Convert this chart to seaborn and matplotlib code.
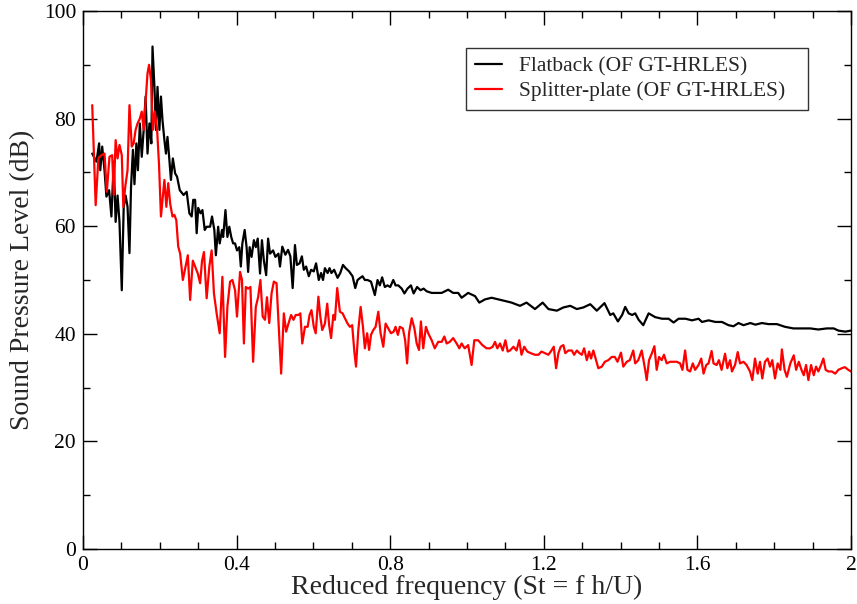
import numpy as np
import pandas as pd
import matplotlib
matplotlib.use("Agg")
import matplotlib.pyplot as plt
from matplotlib.ticker import MultipleLocator
import seaborn as sns

# ---- data ----
st_flatback = [
    0.024, 0.035, 0.042, 0.045, 0.050, 0.056, 0.061, 0.068, 0.074, 0.080,
    0.085, 0.090, 0.095, 0.101, 0.106, 0.111, 0.116, 0.121, 0.125, 0.130,
    0.134, 0.139, 0.143, 0.148, 0.153, 0.158, 0.163, 0.168, 0.173, 0.178,
    0.181, 0.186, 0.190, 0.194, 0.199, 0.203, 0.207, 0.212, 0.216, 0.220,
    0.225, 0.229, 0.234, 0.240, 0.245, 0.252,
    0.262, 0.270, 0.277, 0.283, 0.287, 0.292, 0.296, 0.300, 0.306, 0.311,
    0.317, 0.322, 0.331, 0.336, 0.342, 0.346, 0.352, 0.356, 0.362, 0.365,
    0.371, 0.376, 0.381, 0.386, 0.391, 0.396, 0.401, 0.407, 0.411, 0.415,
    0.421, 0.426, 0.430, 0.434, 0.439, 0.445, 0.450, 0.455, 0.461, 0.466,
    0.471, 0.477, 0.482, 0.487, 0.495, 0.501, 0.509, 0.513,
    0.519, 0.527, 0.534, 0.540, 0.546, 0.552, 0.557, 0.564, 0.570, 0.575,
    0.581, 0.588, 0.594, 0.601, 0.607, 0.614, 0.620, 0.625, 0.630, 0.637,
    0.642, 0.647, 0.654, 0.663, 0.670, 0.677, 0.684, 0.693, 0.702, 0.709,
    0.715, 0.722, 0.728, 0.734, 0.741, 0.750, 0.760, 0.767, 0.773, 0.779,
    0.786, 0.793, 0.800, 0.808, 0.814, 0.821, 0.830, 0.837, 0.845, 0.854,
    0.861, 0.870, 0.879, 0.887,
    0.895, 0.908, 0.921, 0.934, 0.951, 0.964, 0.977, 0.986, 1.003, 1.021,
    1.032, 1.047, 1.064, 1.082, 1.099, 1.116, 1.138, 1.155, 1.177, 1.197,
    1.212, 1.234, 1.251, 1.269, 1.286, 1.303, 1.321, 1.338,
    1.358, 1.373, 1.381, 1.393, 1.404, 1.412, 1.421, 1.430, 1.438, 1.447,
    1.459, 1.473, 1.490, 1.508, 1.525, 1.538, 1.551, 1.569, 1.586, 1.603,
    1.612, 1.629, 1.647, 1.664, 1.681, 1.694, 1.707, 1.720, 1.738, 1.751,
    1.768,
    1.785, 1.807, 1.828, 1.850, 1.872, 1.894, 1.915, 1.937, 1.955, 1.967,
    1.985, 2.000,
]
spl_flatback = [
    73.5, 72.0, 75.4, 70.4, 74.8, 70.4, 65.5, 66.7, 61.8, 72.0,
    60.8, 65.7, 60.8, 48.1, 63.6, 65.7, 63.6, 55.0, 67.2, 74.2,
    67.8, 75.4, 70.4, 79.1, 72.9, 77.9, 84.1, 73.5, 79.1, 75.4,
    93.4, 85.9, 77.9, 85.9, 77.9, 84.1, 79.7, 76.0, 73.5, 76.6,
    72.3, 68.6, 72.6, 69.8, 69.2, 66.7,
    65.8, 66.4, 62.4, 61.8, 64.9, 64.9, 58.7, 63.4, 62.4, 63.0,
    59.3, 59.9, 59.9, 61.8, 59.3, 54.6, 59.9, 56.8, 59.3, 58.0,
    63.0, 58.0, 59.9, 58.0, 56.8, 56.8, 55.5, 56.1, 52.5, 56.8,
    59.3, 56.1, 51.5, 56.1, 54.3, 57.4, 56.1, 57.7, 51.2, 57.4,
    53.6, 50.9, 57.7, 54.9, 55.5, 54.3, 54.9, 52.5,
    56.2, 54.7, 55.6, 54.4, 48.5, 56.5, 52.8, 53.1, 54.4, 51.9,
    52.5, 50.7, 51.9, 51.6, 53.1, 50.0, 51.3, 50.0, 52.2, 51.3,
    52.2, 51.3, 51.9, 50.4, 51.3, 52.8, 52.2, 51.6, 50.7, 48.5,
    50.0, 50.4, 50.7, 50.0, 50.0, 49.7, 47.2, 50.0, 49.0, 50.5,
    48.7, 49.0, 48.7, 50.0, 49.0, 49.0, 48.4, 47.5, 48.4, 49.0,
    47.5, 48.7, 48.1, 48.4,
    47.9, 47.6, 47.6, 47.6, 48.2, 47.6, 47.6, 46.7, 47.6, 47.0,
    45.8, 46.4, 46.7, 46.4, 46.1, 45.8, 45.2, 45.8, 44.6, 45.8,
    44.6, 44.3, 44.9, 45.2, 44.6, 44.9, 45.5, 44.3,
    45.7, 43.5, 43.8, 42.3, 43.5, 45.0, 43.8, 43.5, 43.8, 42.6,
    41.6, 43.8, 43.1, 42.8, 42.8, 42.1, 42.8, 42.8, 42.5, 42.8,
    42.2, 42.5, 42.2, 42.2, 41.6, 41.4, 42.0, 41.6, 42.0, 41.7,
    42.0,
    41.8, 41.8, 41.3, 41.0, 41.0, 41.0, 40.8, 41.0, 41.0, 40.6,
    40.4, 40.6,
]

st_splitter = [
    0.024, 0.033, 0.040, 0.048, 0.056, 0.062, 0.069, 0.076, 0.080, 0.085,
    0.090, 0.095, 0.101, 0.105, 0.110, 0.116, 0.121, 0.127, 0.132, 0.137,
    0.142, 0.148, 0.153, 0.158, 0.163, 0.168, 0.172, 0.177, 0.182, 0.187,
    0.193, 0.198, 0.203, 0.208, 0.212, 0.217, 0.222, 0.227, 0.233, 0.238,
    0.243, 0.248,
    0.253, 0.260, 0.267, 0.273, 0.279, 0.286, 0.292, 0.299, 0.305, 0.310,
    0.315, 0.322, 0.329, 0.335, 0.341, 0.348, 0.356, 0.363, 0.370, 0.376,
    0.383, 0.389, 0.396, 0.401, 0.409, 0.414, 0.419, 0.424, 0.430, 0.436,
    0.443, 0.450, 0.456, 0.462, 0.468, 0.474, 0.479, 0.485, 0.491, 0.497,
    0.504,
    0.516, 0.523, 0.529, 0.535, 0.542, 0.548, 0.554, 0.561, 0.566, 0.571,
    0.578, 0.585, 0.590, 0.595, 0.601, 0.606, 0.613, 0.618, 0.623, 0.630,
    0.636, 0.641, 0.646, 0.652, 0.656, 0.662, 0.669, 0.676, 0.682, 0.689,
    0.695, 0.701, 0.707, 0.711, 0.717, 0.723, 0.729, 0.734, 0.740, 0.745,
    0.750, 0.756, 0.762, 0.769, 0.775, 0.782, 0.788, 0.795, 0.802, 0.809,
    0.814, 0.820, 0.825, 0.833, 0.839, 0.844, 0.849, 0.856, 0.863, 0.869,
    0.875, 0.880, 0.886,
    0.893, 0.899, 0.908, 0.916, 0.925, 0.934, 0.941, 0.947, 0.955, 0.964,
    0.973, 0.980, 0.986, 0.994, 1.003, 1.012, 1.019, 1.029, 1.040, 1.051,
    1.060, 1.067, 1.073, 1.079, 1.086, 1.093, 1.100, 1.106, 1.112, 1.121,
    1.129, 1.136, 1.142, 1.149, 1.157, 1.166, 1.177, 1.186, 1.194, 1.203,
    1.212, 1.220, 1.226, 1.232, 1.238, 1.244, 1.251, 1.256, 1.264, 1.273,
    1.279, 1.286, 1.293, 1.299, 1.305, 1.312, 1.318, 1.323, 1.329,
    1.342, 1.351, 1.359, 1.368, 1.377, 1.385, 1.392, 1.401, 1.407, 1.416,
    1.424, 1.433, 1.438, 1.446, 1.455, 1.464, 1.468, 1.474, 1.481, 1.488,
    1.494, 1.500, 1.507, 1.513, 1.520, 1.529, 1.538, 1.546, 1.555, 1.561,
    1.568, 1.574, 1.581, 1.588, 1.594, 1.603, 1.610, 1.616, 1.623, 1.629,
    1.637, 1.642, 1.650, 1.656, 1.663, 1.672, 1.678, 1.685, 1.690, 1.698,
    1.705, 1.711, 1.720, 1.728, 1.737, 1.743,
    1.750, 1.757, 1.763, 1.769, 1.776, 1.783, 1.789, 1.795, 1.802, 1.809,
    1.816, 1.820, 1.827, 1.833, 1.842, 1.851, 1.857, 1.864, 1.871, 1.877,
    1.883, 1.889, 1.896, 1.903, 1.909, 1.915, 1.922, 1.928, 1.934, 1.941,
    1.950, 1.959, 1.967, 1.976, 1.984, 1.993, 2.000,
]
spl_splitter = [
    82.5, 63.9, 72.6, 73.2, 73.5, 66.4, 72.9, 73.2, 65.8, 76.0,
    72.6, 75.1, 73.2, 63.6, 67.3, 70.4, 82.5, 74.8, 75.4, 77.9,
    79.1, 80.0, 81.3, 77.9, 83.2, 88.4, 90.0, 87.2, 77.9, 81.3,
    77.9, 71.4, 61.8, 65.5, 68.6, 63.6, 68.0, 64.2, 61.8, 62.1,
    61.1, 56.2,
    54.9, 50.0, 52.5, 54.6, 46.3, 53.6, 52.5, 51.2, 49.4, 53.6,
    55.2, 46.6, 52.5, 55.5, 47.5, 43.8, 40.1, 50.6, 35.7, 45.0,
    49.7, 50.0, 48.1, 43.2, 51.5, 50.0, 38.2, 48.7, 48.4, 48.7,
    34.8, 45.0, 46.8, 50.0, 43.2, 42.6, 46.8, 42.0, 47.5, 49.7,
    49.4,
    32.6, 43.8, 40.4, 41.9, 43.5, 42.6, 43.5, 43.5, 43.8, 38.2,
    41.3, 41.3, 43.5, 44.4, 41.3, 40.1, 46.9, 43.2, 40.7, 41.9,
    45.6, 41.6, 39.2, 43.5, 42.6, 48.5, 44.1, 43.8, 42.9, 41.9,
    41.3, 41.6, 36.4, 33.9, 40.7, 45.0, 41.3, 37.3, 40.1, 37.0,
    39.8, 40.7, 41.3, 44.1, 40.1, 37.6, 41.9, 41.0, 40.1, 40.4,
    41.3, 39.8, 41.3, 41.0, 38.8, 34.5, 40.1, 42.9, 41.0, 38.2,
    37.0, 42.3, 37.3,
    41.3, 40.1, 38.8, 37.3, 38.5, 38.5, 39.5, 38.2, 38.5, 39.2,
    38.2, 37.3, 38.2, 37.3, 37.9, 34.2, 38.8, 38.8, 37.9, 37.3,
    37.3, 37.6, 38.5, 37.3, 38.2, 36.9, 38.8, 36.7, 36.9, 37.6,
    36.9, 38.8, 36.1, 37.6, 36.7, 36.4, 36.1, 36.1, 36.7, 36.4,
    36.1, 36.9, 37.6, 33.6, 36.4, 37.6, 37.9, 36.4, 36.9, 36.9,
    36.1, 36.9, 36.4, 36.1, 37.3, 35.1, 36.7, 35.4, 36.9,
    33.6, 33.9, 34.8, 35.1, 35.7, 35.7, 34.8, 36.5, 33.9, 34.8,
    35.1, 36.9, 34.5, 35.1, 36.9, 33.3, 31.4, 35.1, 36.3, 37.7,
    33.3, 35.7, 35.1, 36.1, 34.5, 34.8, 34.8, 34.8, 34.5, 33.3,
    36.9, 33.3, 33.0, 34.5, 33.3, 34.2, 35.4, 32.6, 34.2, 34.5,
    36.8, 34.5, 34.2, 35.1, 33.3, 36.3, 33.6, 35.1, 33.0, 34.2,
    36.6, 34.5, 34.8, 34.2, 33.0, 31.4,
    35.4, 32.6, 34.8, 31.7, 34.8, 35.4, 33.9, 35.1, 31.7, 34.5,
    33.3, 37.1, 33.3, 32.0, 34.5, 36.0, 33.3, 34.8, 33.3, 32.3,
    34.2, 31.4, 34.2, 32.3, 33.9, 33.0, 34.2, 35.4, 33.3, 33.0,
    33.0, 32.6, 33.3, 33.6, 33.8, 33.3, 33.0,
]

series_labels = ["Flatback (OF GT-HRLES)", "Splitter-plate (OF GT-HRLES)"]
series_colors = ["#000000", "#ff0000"]
x_ticks = [0, 0.4, 0.8, 1.2, 1.6, 2]
x_tick_labels = ["0", "0.4", "0.8", "1.2", "1.6", "2"]
y_ticks = [0, 20, 40, 60, 80, 100]
x_label = "Reduced frequency (St = f h/U)"
y_label = "Sound Pressure Level (dB)"

sns.set_style("ticks")
plt.rcParams["font.family"] = ["Liberation Serif", "DejaVu Serif"]

fig = plt.figure(figsize=(8.57, 6.04), dpi=100)
ax = fig.add_axes([83 / 857, 1 - 549 / 604, 768 / 857, 538 / 604])

df1 = pd.DataFrame({"St": st_flatback, "SPL": spl_flatback})
df2 = pd.DataFrame({"St": st_splitter, "SPL": spl_splitter})
sns.lineplot(data=df1, x="St", y="SPL", ax=ax, color=series_colors[0],
             lw=1.6, label=series_labels[0], sort=False, estimator=None)
sns.lineplot(data=df2, x="St", y="SPL", ax=ax, color=series_colors[1],
             lw=1.6, label=series_labels[1], sort=False, estimator=None)

ax.set_xlim(0, 2)
ax.set_ylim(0, 100)
ax.set_xticks(x_ticks)
ax.set_xticklabels(x_tick_labels)
ax.set_yticks(y_ticks)
ax.xaxis.set_minor_locator(MultipleLocator(0.1))
ax.yaxis.set_minor_locator(MultipleLocator(10))
ax.tick_params(which="both", direction="in", top=True, right=True,
               labelsize=15.5, width=1.0, colors="black")
ax.tick_params(which="major", length=10, pad=5)
ax.tick_params(which="minor", length=5)
for s in ax.spines.values():
    s.set_linewidth(1.0)
    s.set_color("black")

ax.set_xlabel(x_label, fontsize=20, labelpad=0)
ax.set_ylabel(y_label, fontsize=20, labelpad=6)

x0 = (466 - 83) / 768
y0 = (549 - 108) / 538
w = (808 - 466) / 768
h = (108 - 48) / 538
leg = ax.legend(loc="upper left", bbox_to_anchor=(x0, y0, w, h), mode="expand",
                borderaxespad=0, fontsize=15.5, frameon=True, fancybox=False,
                handlelength=1.25, handletextpad=0.8, borderpad=0.4,
                labelspacing=0.2)
leg.get_frame().set_edgecolor("black")
leg.get_frame().set_linewidth(1.0)

fig.savefig("out.png", dpi=100)
